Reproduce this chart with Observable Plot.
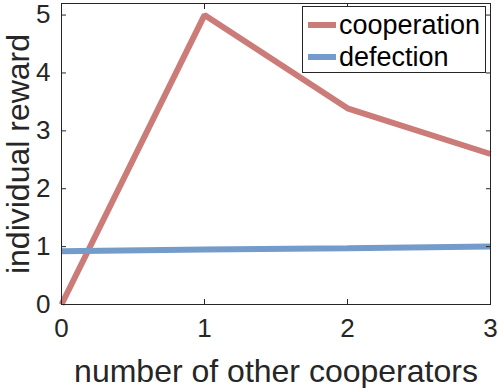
<!DOCTYPE html>
<html><head><meta charset="utf-8">
<script src="https://cdn.jsdelivr.net/npm/d3@7"></script>
<script src="https://cdn.jsdelivr.net/npm/@observablehq/plot@0.6"></script>
<style>
body{margin:0;background:#fff;}
#wrap{position:relative;width:498px;height:388px;font-family:"Liberation Sans",Arial,sans-serif;}
#legend{position:absolute;left:302px;top:6px;width:184px;height:67px;border:1px solid #262626;background:#fff;box-sizing:border-box;}
.item{position:absolute;left:0;height:32px;display:flex;align-items:center;font-size:27px;color:#000;}
.sw{display:inline-block;width:28px;height:6px;margin-left:5px;margin-right:3px;}
</style></head>
<body><div id="wrap"></div>
<script>
const others = [0, 1, 2, 3];
const cooperation = [0, 5, 3.39, 2.6];
const defection = [0.92, 0.95, 0.97, 1.0];
const seriesNames = ["cooperation", "defection"];
const seriesColors = ["#CB7B78", "#749CCB"];
const xTicks = [0, 1, 2, 3];
const yTicks = [0, 1, 2, 3, 4, 5];

const rows = [];
others.forEach((x, i) => {
  rows.push({x, y: cooperation[i], s: seriesNames[0]});
  rows.push({x, y: defection[i], s: seriesNames[1]});
});

const ink = "#262626";
const fmt = d3.format("d");
const chart = Plot.plot({
  width: 498, height: 388,
  marginLeft: 61, marginRight: 8, marginTop: 3, marginBottom: 84,
  style: {fontFamily: '"Liberation Sans", Arial, sans-serif', fontSize: "26px", color: ink, background: "white"},
  x: {domain: [0, 3], label: null},
  y: {domain: [0, 5.2], label: null},
  color: {domain: seriesNames, range: seriesColors},
  marks: [
    Plot.line(rows, {x: "x", y: "y", z: "s", stroke: "s", strokeWidth: 6, strokeLinejoin: "miter", strokeLinecap: "butt"}),
    Plot.frame({stroke: ink, strokeWidth: 1}),
    Plot.axisX({anchor: "bottom", ticks: xTicks, tickFormat: fmt, tickSize: -5, tickPadding: 19, stroke: ink, fill: ink, fontSize: 26, label: null}),
    Plot.axisX({anchor: "top", ticks: xTicks, tickSize: -5, tickFormat: () => "", stroke: ink, label: null}),
    Plot.axisY({anchor: "left", ticks: yTicks, tickFormat: fmt, tickSize: -5, tickPadding: 16, stroke: ink, fill: ink, fontSize: 26, label: null}),
    Plot.axisY({anchor: "right", ticks: yTicks, tickSize: -5, tickFormat: () => "", stroke: ink, label: null}),
    Plot.text(["number of other cooperators"], {frameAnchor: "bottom", dy: 67, fontSize: 32, fill: ink, lineAnchor: "middle", textAnchor: "middle"}),
    Plot.text(["individual reward"], {frameAnchor: "left", dx: -43, rotate: -90, fontSize: 32, fill: ink, lineAnchor: "middle", textAnchor: "middle"})
  ]
});
const wrap = document.getElementById("wrap");
wrap.appendChild(chart);
const leg = document.createElement("div");
leg.id = "legend";
seriesNames.forEach((n, i) => {
  const it = document.createElement("div");
  it.className = "item";
  it.style.top = (i * 32 + 2) + "px";
  it.innerHTML = `<span class="sw" style="background:${seriesColors[i]}"></span><span>${n}</span>`;
  leg.appendChild(it);
});
wrap.appendChild(leg);
</script></body></html>
